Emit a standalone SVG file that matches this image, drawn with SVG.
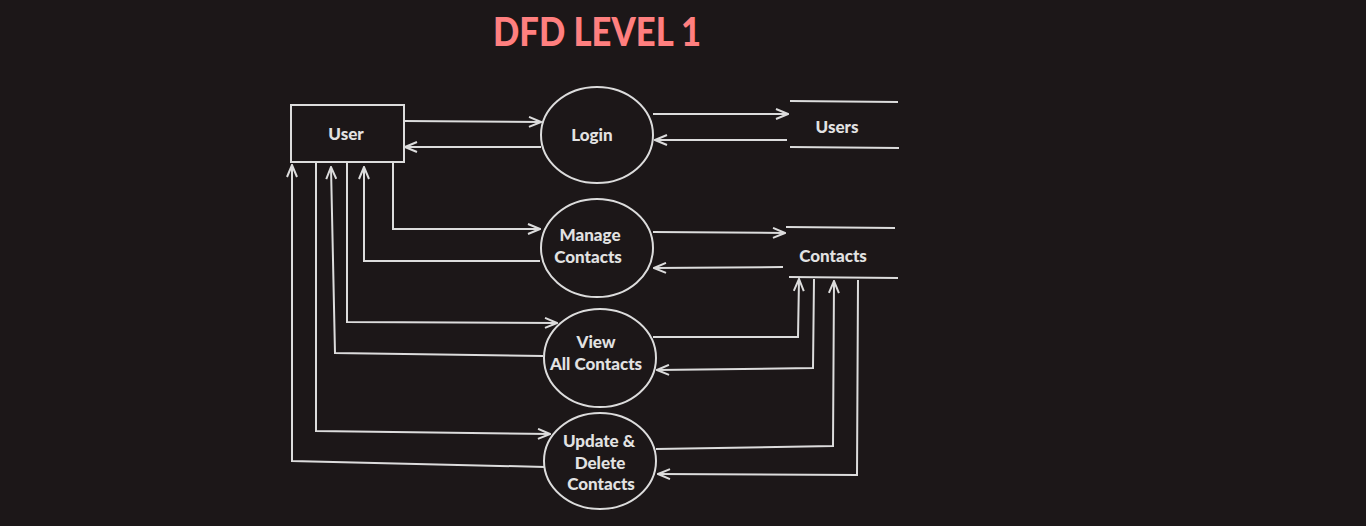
<svg xmlns="http://www.w3.org/2000/svg" width="1366" height="526" viewBox="0 0 1366 526">
<style>
.bg{fill:#1c1718}
.shape{fill:none;stroke:#dcdcdc;stroke-width:2}
.flow{fill:none;stroke:#dcdcdc;stroke-width:2;marker-end:url(#arr)}
.lbl{font-family:Lato,"Liberation Sans",sans-serif;font-weight:900;font-size:17px;fill:#e2e2e2;text-anchor:middle}
.title{font-family:Lato,"Liberation Sans",sans-serif;font-weight:900;font-size:40px;fill:#ff7f7f}
</style>
<defs>
<marker id="arr" markerWidth="14" markerHeight="12" refX="13" refY="6" orient="auto" markerUnits="userSpaceOnUse">
<path d="M1,1 L13,6 L1,11" fill="none" stroke="#dcdcdc" stroke-width="2"/>
</marker>
</defs>
<rect class="bg" x="0" y="0" width="1366" height="526"/>
<text class="title" x="493" y="46" textLength="208" lengthAdjust="spacingAndGlyphs">DFD LEVEL 1</text>
<g id="user">
<rect class="shape" x="291" y="105" width="113" height="57"/>
<text class="lbl" x="346" y="140">User</text>
</g>
<g id="login">
<ellipse class="shape" cx="597" cy="135" rx="56" ry="48"/>
<text class="lbl" x="592" y="141">Login</text>
</g>
<g id="manage">
<ellipse class="shape" cx="597" cy="248" rx="56" ry="49"/>
<text class="lbl" x="590" y="241">Manage</text>
<text class="lbl" x="588" y="263">Contacts</text>
</g>
<g id="view">
<ellipse class="shape" cx="600" cy="358" rx="56" ry="49"/>
<text class="lbl" x="596" y="348">View</text>
<text class="lbl" x="596" y="370">All Contacts</text>
</g>
<g id="update">
<ellipse class="shape" cx="600" cy="461" rx="56" ry="48"/>
<text class="lbl" x="599" y="447">Update &amp;</text>
<text class="lbl" x="600" y="469">Delete</text>
<text class="lbl" x="601" y="490">Contacts</text>
</g>
<g id="users">
<line class="shape" x1="790" y1="101" x2="898" y2="102"/>
<line class="shape" x1="790" y1="147" x2="899" y2="148"/>
<text class="lbl" x="837" y="133">Users</text>
</g>
<g id="contacts">
<line class="shape" x1="786" y1="227" x2="895" y2="228"/>
<line class="shape" x1="789" y1="277" x2="898" y2="278"/>
<text class="lbl" x="833" y="262">Contacts</text>
</g>
<g id="connectors">
<polyline class="flow" points="404,121 541,122"/>
<polyline class="flow" points="541,147 405,147"/>
<polyline class="flow" points="653,114 788,114"/>
<polyline class="flow" points="787,140 655,140"/>
<polyline class="flow" points="393,162 393,229 540,229"/>
<polyline class="flow" points="540,261 364,261 364,167"/>
<polyline class="flow" points="653,232 785,233"/>
<polyline class="flow" points="783,267 654,268"/>
<polyline class="flow" points="347,162 347,322 557,323"/>
<polyline class="flow" points="543,356 335,353 331,167"/>
<polyline class="flow" points="653,337 798,337 799,279"/>
<polyline class="flow" points="814,279 813,368 657,370"/>
<polyline class="flow" points="316,162 316,431 550,434"/>
<polyline class="flow" points="545,467 292,461 292,165"/>
<polyline class="flow" points="656,449 833,446 834,281"/>
<polyline class="flow" points="858,280 857,475 658,474"/>
</g>
</svg>
